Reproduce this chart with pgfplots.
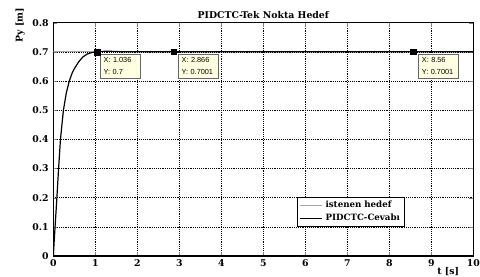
\documentclass[border=0pt]{standalone}
\usepackage{fontspec}
\setmainfont{DejaVu Serif}
\newfontfamily\tipfont{Liberation Sans}
\usepackage{pgfplots}
\pgfplotsset{compat=1.18}
\definecolor{tipbg}{RGB}{255,255,225}
\begin{document}
\begin{tikzpicture}
\begin{axis}[
  scale only axis,
  width=315pt, height=175pt,
  xmin=0, xmax=10, ymin=0, ymax=0.8,
  xtick={0,1,...,10}, ytick={0,0.1,...,0.8},
  yticklabel style={/pgf/number format/fixed,/pgf/number format/precision=1},
  /pgf/number format/assume math mode=true,
  tick label style={font=\fontsize{7}{8}\selectfont\bfseries},
  xticklabel style={yshift=1pt},
  tick align=inside, tick pos=both,
  major tick length=3pt,
  grid=major,
  major grid style={black, densely dotted, line width=0.4pt},
  axis line style={black, line width=0.8pt},
  title={PIDCTC-Tek Nokta Hedef},
  title style={font=\fontsize{7}{8}\selectfont\bfseries, at={(axis description cs:0.5,1.0)}, anchor=center},
  xlabel={t [s]},
  xlabel style={font=\fontsize{7}{8}\selectfont\bfseries, at={(axis description cs:0.94,-0.067)}, anchor=center},
  ylabel={Py [m]},
  ylabel style={font=\fontsize{7}{8}\selectfont\bfseries, at={(axis description cs:-0.079,0.99)}, anchor=center},
  legend style={at={(axis description cs:0.581,0.253)}, anchor=north west,
    font=\fontsize{6.5}{7.5}\selectfont\bfseries, draw=black, line width=0.6pt,
    inner sep=1pt, row sep=-1pt, legend cell align=left},
  legend image post style={line width=0.8pt},
]
\addplot[gray!70, line width=0.8pt] coordinates {(0,0.7) (10,0.7)};
\addlegendentry{istenen hedef}
\addplot[black, line width=0.9pt] coordinates {
(0,0) (0.02,0.05) (0.05,0.12) (0.085,0.2) (0.125,0.3) (0.17,0.4) (0.24,0.5)
(0.31,0.56) (0.38,0.6) (0.45,0.628) (0.5,0.642) (0.6,0.665) (0.7,0.682)
(0.8,0.692) (0.9,0.697) (1.036,0.7) (1.15,0.7015) (1.3,0.702) (1.45,0.7015)
(1.6,0.7005) (2,0.7001) (10,0.7001)};
\addlegendentry{PIDCTC-Cevab\i}
\addplot[only marks, mark=square*, mark size=2.2pt, black, forget plot]
  coordinates {(1.036,0.7) (2.866,0.7001) (8.56,0.7001)};
\begin{scope}[every node/.style={draw=black!60, fill=tipbg, line width=0.4pt,
    font=\tipfont\fontsize{5.5}{9}\selectfont, align=left, anchor=north west,
    inner xsep=2.5pt, inner ysep=2.5pt, text width=25pt}]
\node at (axis cs:1.113,0.692) {X: 1.036\\Y: 0.7};
\node at (axis cs:2.97,0.692) {X: 2.866\\Y: 0.7001};
\node at (axis cs:8.69,0.692) {X: 8.56\\Y: 0.7001};
\end{scope}
\end{axis}
\pgfresetboundingbox
\path[use as bounding box] (-40pt,-15pt) rectangle (320pt,192pt);
\end{tikzpicture}
\end{document}
